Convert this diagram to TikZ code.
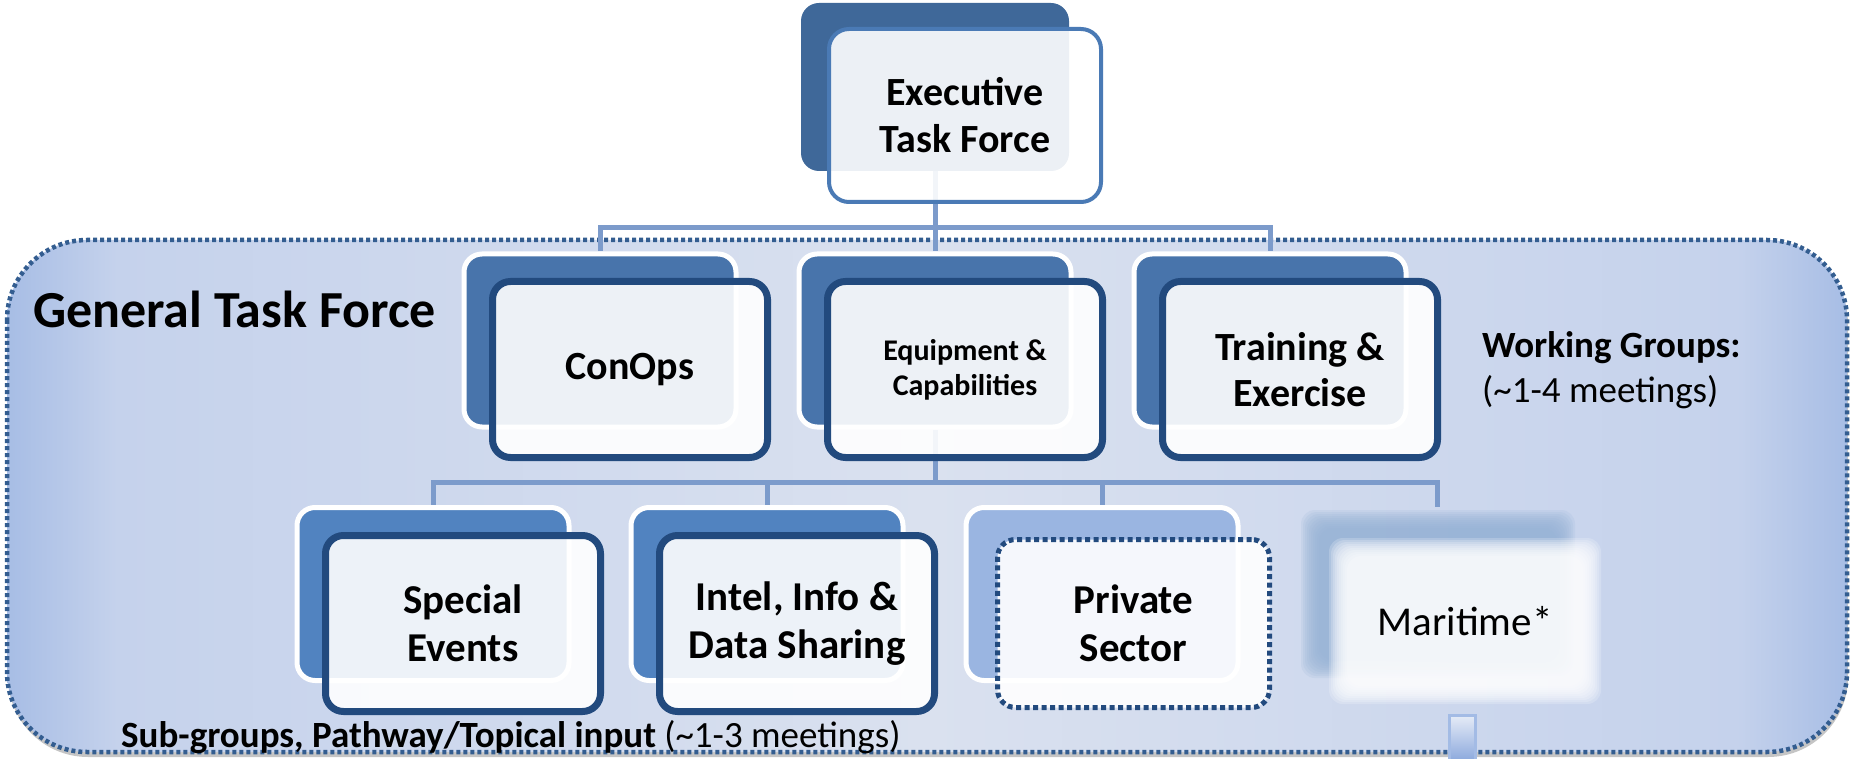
\documentclass[tikz,border=0pt]{standalone}
\usepackage{fontspec}
\setmainfont{Carlito}
\usetikzlibrary{calc}
\definecolor{gA}{HTML}{A7BDE5}
\definecolor{gB}{HTML}{C5D2EC}
\definecolor{gC}{HTML}{DAE1EF}
\definecolor{dashc}{HTML}{335D90}
\definecolor{execBack}{HTML}{3F6899}
\definecolor{execLine}{HTML}{4A7AB5}
\definecolor{midBack}{HTML}{4874AB}
\definecolor{lowBack}{HTML}{5183C0}
\definecolor{privBack}{HTML}{9AB5E1}
\definecolor{navy}{HTML}{224A7E}
\definecolor{connc}{HTML}{7C9BCB}
\definecolor{marBack}{HTML}{95B2D6}
\definecolor{stubLine}{HTML}{A3BBE5}
\definecolor{stubTop}{HTML}{E6ECF7}
\definecolor{stubBot}{HTML}{7F9FD9}
\pgfdeclarehorizontalshading{gtfshade}{100bp}{color(0bp)=(gA); color(25bp)=(gA); color(28bp)=(gB); color(50bp)=(gC); color(72bp)=(gB); color(75bp)=(gA); color(100bp)=(gA)}
\pgfdeclarelayer{bg}
\pgfdeclarelayer{lines}
\pgfsetlayers{bg,lines,main}
\begin{document}
\begin{tikzpicture}[x=1pt,y=-1pt,
  backbox/.style={draw=white, line width=5pt, rounded corners=18pt, minimum width=272pt, minimum height=173pt, inner sep=0pt},
  frontbox/.style={draw=navy, line width=7pt, fill=white, fill opacity=0.9, text opacity=1, rounded corners=18pt, minimum width=275pt, minimum height=176pt, inner sep=0pt, align=center},
  execback/.style={fill=execBack, rounded corners=18pt, minimum width=268pt, minimum height=168pt, inner sep=0pt},
  execfront/.style={draw=execLine, line width=4pt, fill=white, fill opacity=0.9, text opacity=1, rounded corners=20pt, minimum width=272pt, minimum height=173pt, inner sep=0pt, align=center, font=\bfseries\fontsize{40}{47}\selectfont},
  midtext/.style={font=\bfseries\fontsize{40}{46}\selectfont},
  eqtext/.style={font=\bfseries\fontsize{30}{35}\selectfont},
  lowtext/.style={font=\bfseries\fontsize{41}{48}\selectfont},
  conn/.style={draw=connc, line width=5pt},
  plain/.style={inner sep=0pt, anchor=base west}
]
\useasboundingbox (0,0) rectangle (1853,759);

% General task force area
\begin{pgfonlayer}{bg}
\fill[black!45, opacity=0.5, rounded corners=80pt] (8,244) rectangle (1848,757);
\shade[shading=gtfshade, rounded corners=80pt] (7,240) rectangle (1847,752);
\draw[dashc, line width=4.5pt, dash pattern=on 4pt off 3pt, rounded corners=80pt] (7,240) rectangle (1847,752);
\end{pgfonlayer}

\node[plain, font=\bfseries\fontsize{52}{60}\selectfont] (gtf) at (33,328) {General Task Force};

% Executive
\node[execback] (execB) at (935,87) {};
\node[execfront] (exec) at (965,115.5) {Executive\\Task Force};

% Working groups
\node[backbox, fill=midBack] (conB) at (600,340.5) {};
\node[frontbox, midtext] (con) at (630,369.5) {ConOps};
\node[backbox, fill=midBack] (eqB) at (935,340.5) {};
\node[frontbox, eqtext] (eq) at (965,369.5) {Equipment \&\\Capabilities};
\node[backbox, fill=midBack] (trB) at (1270,340.5) {};
\node[frontbox, midtext] (tr) at (1300,369.5) {Training \&\\Exercise};

% Sub-groups
\node[backbox, fill=lowBack] (speB) at (433,594) {};
\node[frontbox, lowtext] (spe) at (463,623.5) {Special\\Events};
\node[backbox, fill=lowBack] (intB) at (767,594) {};
\node[frontbox, lowtext] (int) at (797,623.5) {Intel, Info \&\\Data Sharing};
\node[backbox, fill=privBack] (priB) at (1102,594) {};
\node[frontbox, lowtext, line width=5pt, dash pattern=on 5pt off 3.5pt, minimum width=272pt, minimum height=168pt] (pri) at (1133.5,623.5) {Private\\Sector};

% Maritime (blurred)
\node[inner sep=0pt, minimum width=272pt, minimum height=173pt] (marB) at (1437,594) {};
\foreach \d in {0,2,...,18}{
  \fill[marBack, opacity=0.17, rounded corners=14pt] (1301+\d,510+\d) rectangle (1575-\d,678-\d);
}
\foreach \d in {0,2,...,18}{
  \fill[white, opacity=0.2, rounded corners=14pt] (1329+\d,538+\d) rectangle (1601-\d,704-\d);
}
\node[inner sep=0pt, minimum width=250pt, minimum height=147pt, font=\fontsize{41}{48}\selectfont] (mar) at (1465,621.5) {Maritime*};
\shadedraw[top color=stubTop, bottom color=stubBot, draw=stubLine, line width=3pt]
  ($(mar.south)+(-16,20)$) rectangle ($(mar.south)+(10,72)$);

% side notes
\node[plain, font=\bfseries\fontsize{37}{44}\selectfont] (wg) at (1482,357) {Working Groups:};
\node[plain, font=\fontsize{37}{44}\selectfont] (wgm) at (1482,402) {(\textasciitilde1-4 meetings)};
\node[plain, font=\fontsize{37}{44}\selectfont] (sub) at (121,747) {\textbf{Sub-groups, Pathway/Topical input} (\textasciitilde1-3 meetings)};

% connectors
\coordinate (bus1) at (0,228);
\coordinate (bus2) at (0,482);
\begin{pgfonlayer}{lines}
\draw[conn] (execB.south) -- (eqB.north);
\draw[conn] (conB.north) -- (conB.north |- bus1) -- (trB.north |- bus1) -- (trB.north);
\draw[conn] (eqB.south) -- (eqB.south |- bus2);
\draw[conn] (speB.north) -- (speB.north |- bus2) -- (marB.north |- bus2) -- (marB.north);
\draw[conn] (intB.north) -- (intB.north |- bus2);
\draw[conn] (priB.north) -- (priB.north |- bus2);
\end{pgfonlayer}
\end{tikzpicture}
\end{document}
